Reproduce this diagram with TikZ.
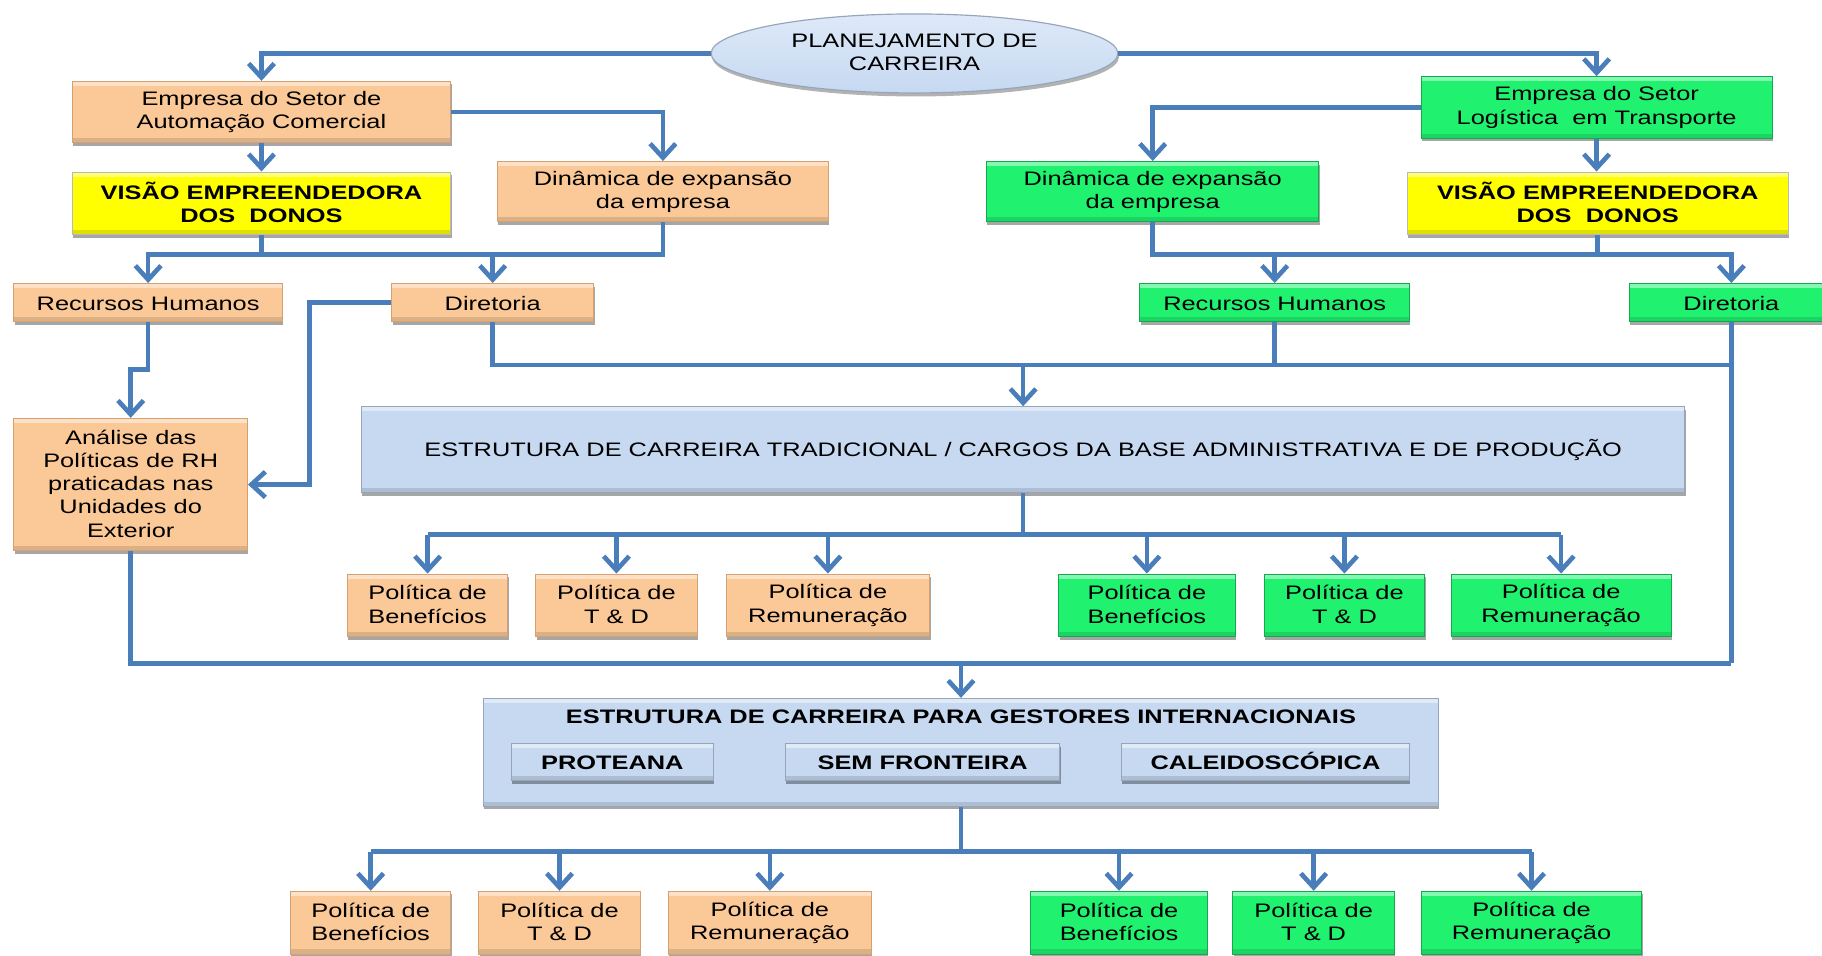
\documentclass[tikz,border=0pt]{standalone}
\usepackage{fontspec}
\setmainfont{Liberation Sans}[FakeStretch=1.3]
\usetikzlibrary{arrows.meta,calc,shapes.geometric,shadows}

\definecolor{peach}{RGB}{251,201,152}
\definecolor{peachdk}{RGB}{214,160,112}
\definecolor{mint}{RGB}{32,242,112}
\definecolor{mintdk}{RGB}{22,168,78}
\definecolor{lemon}{RGB}{255,255,0}
\definecolor{sky}{RGB}{198,217,241}
\definecolor{skydk}{RGB}{150,165,188}
\definecolor{wire}{RGB}{74,126,187}

% fixed line height so every box centres its text the same way
\newcommand\mystrut{\rule[-1pt]{0pt}{8.5pt}}

\tikzset{
  basebox/.style={rectangle, inner sep=1pt, align=center,
    font=\fontsize{8.4}{10}\selectfont,
    execute at begin node=\mystrut, execute at end node=\mystrut,
    drop shadow={shadow xshift=0.4pt, shadow yshift=-1.3pt, fill=black, opacity=0.35},
    path picture={
      \fill[white,opacity=0.45] (path picture bounding box.north west)
        rectangle ([yshift=-2pt]path picture bounding box.north east);
      \fill[black,opacity=0.12] (path picture bounding box.south west)
        rectangle ([yshift=2pt]path picture bounding box.south east);
    }},
  peachbox/.style={basebox, fill=peach, draw=peachdk, line width=0.4pt},
  mintbox/.style={basebox, fill=mint, draw=mintdk, line width=0.4pt},
  lemonbox/.style={basebox, fill=lemon, draw=gray!55, line width=0.4pt,
    font=\fontsize{8.4}{10}\selectfont\bfseries},
  skybox/.style={basebox, fill=sky, draw=skydk, line width=0.4pt},
  tagbox/.style={skybox, font=\fontsize{8.4}{10}\selectfont\bfseries},
  wireline/.style={draw=wire, line width=2pt},
  wirearrow/.style={wireline, -{Straight Barb[length=6pt,width=11pt]}},
}

% box given by its corners (x1,y1)-(x2,y2) in drawing units
\newcommand\mybox[7]{%
  \node[#6, minimum width={(#4-#2)*0.5pt}, minimum height={(#5-#3)*0.5pt}]
    (#1) at ({(#2+#4)/2},{(#3+#5)/2}) {#7};}

\begin{document}
\begin{tikzpicture}[x=0.5pt,y=-0.5pt]
\fill[white] (0,0) rectangle (1568,822);
\useasboundingbox (0,0) rectangle (1568,822);

% root
\node[ellipse, minimum width=175pt, minimum height=34pt, inner sep=0pt,
  top color={rgb,255:red,222;green,233;blue,248}, bottom color=sky,
  draw=skydk, line width=0.5pt, align=center,
  font=\fontsize{8.4}{10}\selectfont,
  execute at begin node=\mystrut, execute at end node=\mystrut,
  drop shadow={shadow xshift=0.5pt, shadow yshift=-1.5pt, fill=black, opacity=0.3}]
  (top) at (787,46) {PLANEJAMENTO DE\\CARREIRA};

% left branch
\mybox{emp1}{62}{70}{388}{123}{peachbox}{Empresa do Setor de\\Automação Comercial}
\mybox{vis1}{62}{148}{388}{202}{lemonbox}{VISÃO EMPREENDEDORA\\DOS~~DONOS}
\mybox{din1}{428}{139}{713}{191}{peachbox}{Dinâmica de expansão\\da empresa}
\mybox{rh1}{12}{244}{243}{277}{peachbox}{Recursos Humanos}
\mybox{dir1}{337}{244}{511}{277}{peachbox}{Diretoria}
\mybox{ana}{12}{360}{213}{474}{peachbox}{Análise das\\Políticas de RH\\praticadas nas\\Unidades do\\Exterior}

% right branch
\mybox{emp2}{1223}{66}{1525}{119}{mintbox}{Empresa do Setor\\Logística~~em Transporte}
\mybox{vis2}{1211}{148}{1539}{202}{lemonbox}{VISÃO EMPREENDEDORA\\DOS~~DONOS}
\mybox{din2}{849}{139}{1135}{191}{mintbox}{Dinâmica de expansão\\da empresa}
\mybox{rh2}{981}{244}{1213}{277}{mintbox}{Recursos Humanos}
\mybox{dir2}{1402}{244}{1578}{277}{mintbox}{Diretoria}

% traditional structure
\mybox{est}{311}{350}{1450}{424}{skybox}{ESTRUTURA DE CARREIRA TRADICIONAL / CARGOS DA BASE ADMINISTRATIVA E DE PRODUÇÃO}

\mybox{pa1}{299}{494}{437}{548}{peachbox}{Política de\\Benefícios}
\mybox{pa2}{461}{494}{600}{548}{peachbox}{Política de\\T \& D}
\mybox{pa3}{625}{494}{800}{548}{peachbox}{Política de\\Remuneração}
\mybox{pa4}{911}{494}{1063}{548}{mintbox}{Política de\\Benefícios}
\mybox{pa5}{1088}{494}{1226}{548}{mintbox}{Política de\\T \& D}
\mybox{pa6}{1249}{494}{1438}{548}{mintbox}{Política de\\Remuneração}

% international managers structure
\mybox{ges}{416}{601}{1238}{694}{skybox}{}
\node[font=\fontsize{8.4}{10}\selectfont\bfseries] (gtitle) at (827,617)
  {ESTRUTURA DE CARREIRA PARA GESTORES INTERNACIONAIS};
\mybox{pro}{440}{640}{614}{672}{tagbox}{PROTEANA}
\mybox{sem}{676}{640}{912}{672}{tagbox}{SEM FRONTEIRA}
\mybox{cal}{965}{640}{1213}{672}{tagbox}{CALEIDOSCÓPICA}

\mybox{pb1}{250}{767}{388}{821}{peachbox}{Política de\\Benefícios}
\mybox{pb2}{412}{767}{551}{821}{peachbox}{Política de\\T \& D}
\mybox{pb3}{575}{767}{750}{821}{peachbox}{Política de\\Remuneração}
\mybox{pb4}{887}{767}{1039}{821}{mintbox}{Política de\\Benefícios}
\mybox{pb5}{1061}{767}{1200}{821}{mintbox}{Política de\\T \& D}
\mybox{pb6}{1223}{767}{1413}{821}{mintbox}{Política de\\Remuneração}

% connectors: top level
\draw[wirearrow] (top.west) -| (emp1.north);
\draw[wirearrow] (top.east) -| (emp2.north);

% left company
\draw[wirearrow] (emp1.south) -- (vis1.north);
\draw[wirearrow] (emp1.east) -| (din1.north);
\draw[wirearrow] (vis1.south) -- (vis1.south |- 0,219) -| (rh1.north);
\draw[wirearrow] (din1.south) -- (din1.south |- 0,219) -| (dir1.north);
\draw[wireline] (vis1.south |- 0,219) -- (dir1.north |- 0,219);
\draw[wirearrow] (rh1.south) -- (rh1.south |- 0,318) -| (ana.north);
\draw[wirearrow] (dir1.west) -| ($(ana.east)+(53,0)$) -- (ana.east);

% right company
\draw[wirearrow] (emp2.south) -- (emp2.south |- vis2.north);
\draw[wirearrow] (emp2.west) -| (din2.north);
\draw[wirearrow] (din2.south) -- (din2.south |- 0,219) -| (rh2.north);
\draw[wirearrow] (vis2.south) -- (vis2.south |- 0,219) -| (dir2.north);
\draw[wireline] (rh2.north |- 0,219) -- (vis2.south |- 0,219);

% into the traditional structure
\draw[wireline] (dir1.south) |- (dir2.south |- 0,314);
\draw[wireline] (rh2.south) -- (rh2.south |- 0,314);
\draw[wireline] (dir2.south) -- (dir2.south |- 0,571);
\draw[wirearrow] (est.north |- 0,314) -- (est.north);

\draw[wireline] (est.south) -- (est.south |- 0,460);
\draw[wireline] (pa1.north |- 0,460) -- (pa6.north |- 0,460);
\foreach \p in {pa1,pa2,pa3,pa4,pa5,pa6}
  \draw[wirearrow] (\p.north |- 0,460) -- (\p.north);

% into the international structure
\draw[wireline] (ana.south) |- (dir2.south |- 0,571);
\draw[wirearrow] (ges.north |- 0,571) -- (ges.north);

\draw[wireline] (ges.south) -- (ges.south |- 0,733);
\draw[wireline] (pb1.north |- 0,733) -- (pb6.north |- 0,733);
\foreach \p in {pb1,pb2,pb3,pb4,pb5,pb6}
  \draw[wirearrow] (\p.north |- 0,733) -- (\p.north);
\end{tikzpicture}
\end{document}
